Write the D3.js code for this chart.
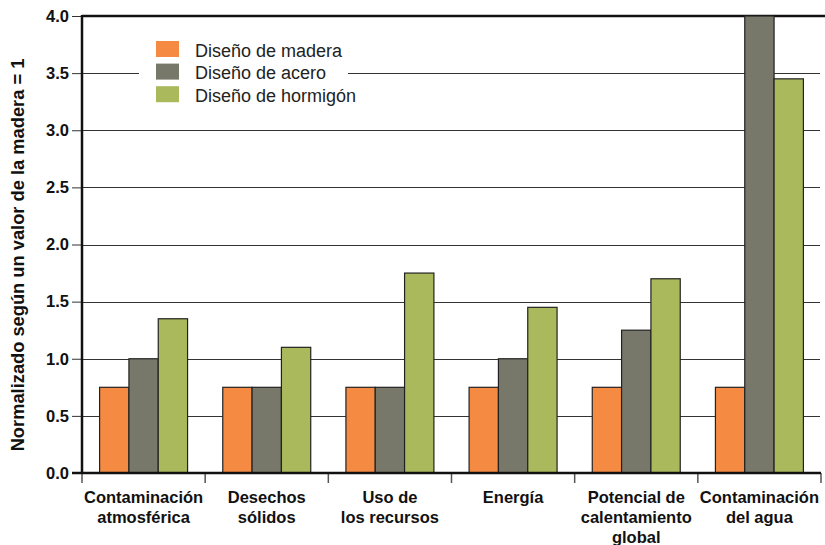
<!DOCTYPE html>
<html><head><meta charset="utf-8">
<script src="https://cdn.jsdelivr.net/npm/d3@7"></script>
<style>body{margin:0;background:#fff}svg{display:block;font-family:"Liberation Sans",Arial,Helvetica,sans-serif}</style>
</head><body><svg id="c" width="825" height="545"></svg>
<script>
const categories = [["Contaminación","atmosférica"],["Desechos","sólidos"],["Uso de","los recursos"],["Energía"],["Potencial de","calentamiento","global"],["Contaminación","del agua"]];
const seriesNames = ["Diseño de madera","Diseño de acero","Diseño de hormigón"];
const madera = [0.75,0.75,0.75,0.75,0.75,0.75];
const acero = [1.0,0.75,0.75,1.0,1.25,4.0];
const hormigon = [1.35,1.1,1.75,1.45,1.7,3.45];
const yTicks = [0,0.5,1,1.5,2,2.5,3,3.5,4];
const colors = ["#F58A42","#78786A","#AAB95C"];
const yTitle = "Normalizado según un valor de la madera = 1";

const svg = d3.select("#c");
const L=82,R=821,T=16,B=473;
const keys = categories.map((c,i)=>i);
const x0 = d3.scaleBand().domain(keys).range([L,R]).padding(0);
const x1 = d3.scaleBand().domain([0,1,2]).range([0,x0.bandwidth()]).paddingInner(0).paddingOuter(0.6);
const y = d3.scaleLinear().domain([0,4]).range([B,T]);
const data = [madera,acero,hormigon];

// gridlines
svg.append("g").selectAll("line").data(yTicks.filter(v=>v>0&&v<4)).join("line")
  .attr("x1",L).attr("x2",820).attr("y1",d=>Math.round(y(d))+0.5).attr("y2",d=>Math.round(y(d))+0.5)
  .attr("stroke","#333").attr("stroke-width",1);
// top line
svg.append("line").attr("x1",L).attr("x2",825).attr("y1",y(4)).attr("y2",y(4)).attr("stroke","#111").attr("stroke-width",2.5);

// legend background
svg.append("rect").attr("x",139).attr("y",34).attr("width",209).attr("height",74).attr("fill","#fff");
const lg = svg.append("g");
seriesNames.forEach((s,i)=>{
  lg.append("rect").attr("x",156).attr("y",41+i*22.6).attr("width",23).attr("height",16).attr("fill",colors[i]);
  lg.append("text").attr("x",195).attr("y",56.5+i*22.6).attr("font-size",18).attr("fill","#222").text(s);
});

// bars
const g = svg.append("g");
keys.forEach(k=>{
  data.forEach((arr,si)=>{
    g.append("rect").attr("x",x0(k)+x1(si)).attr("y",y(arr[k])).attr("width",x1.bandwidth())
      .attr("height",y(0)-y(arr[k])).attr("fill",colors[si]).attr("stroke","#222").attr("stroke-width",1.2);
  });
});

// y axis
const ya = svg.append("g").attr("transform",`translate(${L},0)`).call(d3.axisLeft(y).tickValues(yTicks).tickFormat(d3.format(".1f")).tickSize(10).tickPadding(3));
ya.select(".domain").remove();
ya.selectAll(".tick line").attr("stroke","#333");
ya.selectAll(".tick text").attr("font-size",16.5).attr("font-weight","bold").attr("fill","#111").attr("font-family","Liberation Sans, Arial, sans-serif");
svg.append("line").attr("x1",L).attr("x2",L).attr("y1",T-1).attr("y2",B+1).attr("stroke","#111").attr("stroke-width",2.5);

// x axis
const edges = x0.domain().map(k=>x0(k)).concat([R]);
svg.append("g").selectAll("line").data(edges).join("line")
  .attr("x1",d=>d).attr("x2",d=>d).attr("y1",B).attr("y2",B+10).attr("stroke","#555").attr("stroke-width",1.5);
svg.append("line").attr("x1",L-10).attr("x2",R).attr("y1",B).attr("y2",B).attr("stroke","#111").attr("stroke-width",2.5);

const xl = svg.append("g");
keys.forEach(k=>{
  const t = xl.append("text").attr("x",x0(k)+x0.bandwidth()/2).attr("y",502.5).attr("text-anchor","middle")
    .attr("font-size",16.5).attr("font-weight","bold").attr("fill","#111");
  categories[k].forEach((line,j)=>t.append("tspan").attr("x",x0(k)+x0.bandwidth()/2).attr("dy",j?20:0).text(line));
});

// y title
svg.append("text").attr("transform",`translate(23.5,255) rotate(-90)`).attr("text-anchor","middle")
  .attr("font-size",18.3).attr("font-weight","bold").attr("fill","#111").text(yTitle);
</script></body></html>
